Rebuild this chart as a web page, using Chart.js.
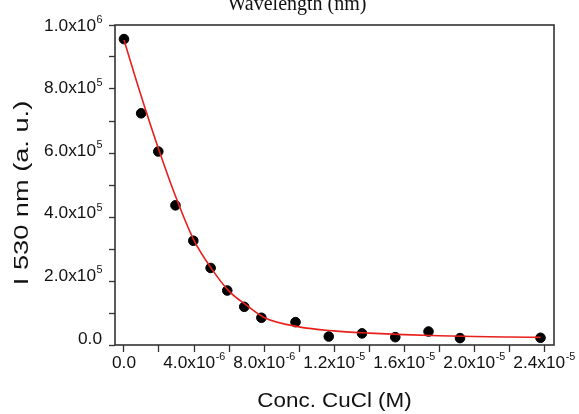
<!DOCTYPE html>
<html>
<head>
<meta charset="utf-8">
<script src="https://cdn.jsdelivr.net/npm/chart.js@4.4.1/dist/chart.umd.min.js"></script>
<style>
  html, body { margin: 0; padding: 0; background: #fff; }
  #wrap { position: relative; width: 579px; height: 414px; overflow: hidden; }
</style>
</head>
<body>
<div id="wrap"><canvas id="quenchChart" width="579" height="414"></canvas></div>
<script>
// ---------- DATA ----------
// emission at 530 nm for each CuCl concentration (M)
const concM = [0, 0.98e-6, 1.96e-6, 2.94e-6, 3.96e-6, 4.95e-6, 5.9e-6, 6.87e-6, 7.85e-6,
               9.8e-6, 11.7e-6, 13.6e-6, 15.5e-6, 17.4e-6, 19.2e-6, 23.8e-6];
const intensity = [955000, 718000, 596000, 424000, 311000, 224000, 152000, 100000, 65000,
                   51000, 5000, 15000, 3000, 21000, 0, 1000];

// fitted decay curve
const fitConc = [0, 1e-6, 2e-6, 3e-6, 4e-6, 5e-6, 6e-6, 7e-6, 8e-6, 10e-6, 12e-6,
                 14e-6, 16e-6, 18e-6, 20e-6, 22e-6, 23.8e-6];
const fitIntensity = [952000, 770000, 600000, 445000, 312000, 222000, 150000, 105000, 66000,
                      36000, 23000, 16000, 11000, 7500, 5000, 3500, 2500];

// tick labels (mantissa + superscript exponent)
const xTickValues = [0, 4e-6, 8e-6, 1.2e-5, 1.6e-5, 2.0e-5, 2.4e-5];
const xTickMantissa = ['0.0', '4.0x10', '8.0x10', '1.2x10', '1.6x10', '2.0x10', '2.4x10'];
const xTickExponent = ['', '-6', '-6', '-5', '-5', '-5', '-5'];
const yTickValues = [0, 2e5, 4e5, 6e5, 8e5, 1e6];
const yTickMantissa = ['0.0', '2.0x10', '4.0x10', '6.0x10', '8.0x10', '1.0x10'];
const yTickExponent = ['', '5', '5', '5', '5', '6'];

const xTitle = 'Conc. CuCl (M)';
const yTitle = 'I 530 nm (a. u.)';
const topCaption = 'Wavelength (nm)';

// ---------- TEXT HELPERS ----------
const SANS = '"Liberation Sans", Arial, sans-serif';
const TICK_STRETCH = 1.08;
const FRAME = '#333';

function sciLabel(ctx, main, exp, x, y, align, size) {
    const supSize = 10;
    ctx.font = size + 'px ' + SANS;
    const w1 = ctx.measureText(main).width;
    ctx.font = supSize + 'px ' + SANS;
    const w2 = exp ? ctx.measureText(exp).width : 0;
    const total = (w1 + w2) * TICK_STRETCH;
    const left = align === 'center' ? x - total / 2 : x - total;

    ctx.save();
    ctx.translate(left, y);
    ctx.scale(TICK_STRETCH, 1);
    ctx.textAlign = 'left';
    ctx.textBaseline = 'alphabetic';
    ctx.font = size + 'px ' + SANS;
    ctx.fillText(main, 0, 0);
    if (exp) {
        ctx.font = supSize + 'px ' + SANS;
        ctx.fillText(exp, w1 + 0.5, -size * 0.47);
    }
    ctx.restore();
}

// ---------- FRAME + LABELS PLUGIN ----------
const framePlugin = {
    id: 'frameLabels',
    afterDraw(chart) {
        const ctx = chart.ctx;
        const area = chart.chartArea;
        const xs = chart.scales.x;
        const ys = chart.scales.y;

        ctx.save();
        ctx.strokeStyle = FRAME;
        ctx.lineWidth = 1.6;
        ctx.strokeRect(area.left, area.top, area.right - area.left, area.bottom - area.top);

        ctx.fillStyle = '#111';
        xTickValues.forEach((v, i) => {
            sciLabel(ctx, xTickMantissa[i], xTickExponent[i], xs.getPixelForValue(v), 368, 'center', 16);
        });
        yTickValues.forEach((v, i) => {
            sciLabel(ctx, yTickMantissa[i], yTickExponent[i], 102, ys.getPixelForValue(v) + 5.5, 'right', 16);
        });

        // axis titles
        ctx.font = '20px ' + SANS;
        ctx.textAlign = 'center';
        ctx.textBaseline = 'alphabetic';
        ctx.save();
        ctx.translate((area.left + area.right) / 2, 407);
        ctx.scale(1.12, 1);
        ctx.fillText(xTitle, 0, 0);
        ctx.restore();

        ctx.save();
        ctx.translate(28, 193);
        ctx.rotate(-Math.PI / 2);
        ctx.scale(1.36, 1);
        ctx.fillText(yTitle, 0, 0);
        ctx.restore();

        // caption cut off at the top edge
        ctx.save();
        ctx.font = '20px "Liberation Serif", "Times New Roman", serif';
        ctx.translate(297, 10);
        ctx.fillText(topCaption, 0, 0);
        ctx.restore();

        ctx.restore();
    }
};

// ---------- CHART ----------
const zeroSize = scale => {
    if (scale.isHorizontal()) scale.height = 0;
    else scale.width = 0;
};

new Chart(document.getElementById('quenchChart'), {
    type: 'scatter',
    data: {
        datasets: [{
            label: 'Fit',
            type: 'line',
            data: fitConc.map((c, i) => ({ x: c, y: fitIntensity[i] })),
            borderColor: '#e8201c',
            borderWidth: 1.6,
            pointRadius: 0,
            cubicInterpolationMode: 'monotone',
            fill: false,
            order: 1
        }, {
            label: 'I 530 nm',
            data: concM.map((c, i) => ({ x: c, y: intensity[i] })),
            backgroundColor: '#000',
            borderColor: '#000',
            pointRadius: 4.8,
            pointHoverRadius: 4.8,
            order: 2
        }]
    },
    options: {
        responsive: false,
        animation: false,
        events: [],
        layout: { padding: { left: 115, right: 25, top: 25, bottom: 69 } },
        plugins: { legend: { display: false }, tooltip: { enabled: false } },
        scales: {
            x: {
                type: 'linear',
                min: -0.514e-6,
                max: 24.57e-6,
                afterFit: zeroSize,
                border: { display: false },
                grid: { drawOnChartArea: false, drawTicks: true, tickLength: 7, tickColor: FRAME, tickWidth: 1.3 },
                ticks: { display: false, stepSize: 2e-6, includeBounds: false }
            },
            y: {
                type: 'linear',
                min: -22000,
                max: 1e6,
                afterFit: zeroSize,
                border: { display: false },
                grid: { drawOnChartArea: false, drawTicks: true, tickLength: 6, tickColor: FRAME, tickWidth: 1.3 },
                ticks: { display: false, stepSize: 1e5, includeBounds: false }
            }
        }
    },
    plugins: [framePlugin]
});
</script>
</body>
</html>
